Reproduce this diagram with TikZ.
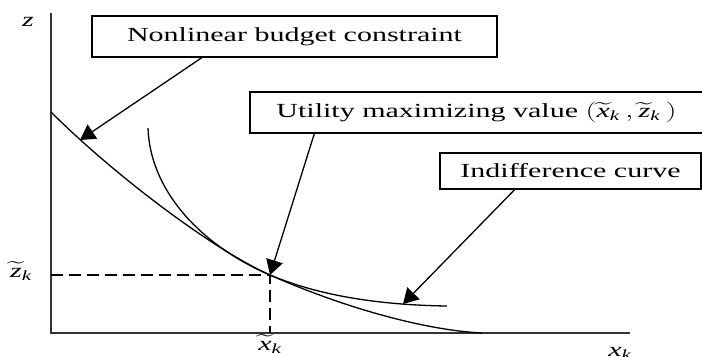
\documentclass[tikz,border=0pt]{standalone}
\usepackage{fontspec}
\usepackage{amsmath}
\usepackage{graphicx}
\setmainfont{Liberation Serif}
\usetikzlibrary{arrows.meta,calc}
\newcommand\lbl[1]{\scalebox{1.5}[1]{#1}}
\newcommand\ivar[1]{\text{\itshape #1}}
\begin{document}
\begin{tikzpicture}[x=1bp,y=-1bp,
  box/.style={draw, line width=1.3bp, inner sep=0pt, font=\fontsize{20bp}{24bp}\selectfont},
  arr/.style={line width=1.3bp, -{Triangle[length=15bp,width=17bp]}},
  crv/.style={line width=1.3bp},
  axisline/.style={line width=1.8bp, draw=black!80},
  dsh/.style={line width=1.3bp, dash pattern=on 12bp off 6bp},
  lab/.style={inner sep=0pt, font=\fontsize{20bp}{24bp}\selectfont}]
\useasboundingbox (0,0) rectangle (702,356);
\clip (0,0) rectangle (702,356);
% axes
\draw[axisline] (51,13) -- (51,333) -- (630,333);
% dashed guides
\coordinate (tp) at (270,275);
\coordinate (za) at (51,275);
\coordinate (xa) at (270,333);
\draw[dsh] (za) -- (tp) -- (xa);
% budget constraint
\draw[crv] (51,112) .. controls (111,172) and (210,248) .. (tp)
  .. controls (340,306) and (422,330) .. (482,333);
% indifference curve
\draw[crv] (148,128) .. controls (150,190) and (200,245) .. (tp)
  .. controls (320,296) and (380,305) .. (447,306);
% boxes
\node[box, minimum width=405bp, minimum height=41bp] (b1) at (294.5,36.5) {\lbl{Nonlinear budget constraint}};
\node[box, minimum width=453bp, minimum height=41bp] (b2) at (476.5,112.5) {\lbl{Utility maximizing value $(\widetilde{\ivar{x}}_{\ivar{k}}\,,\widetilde{\ivar{z}}_{\ivar{k}}\,)$}};
\node[box, minimum width=261bp, minimum height=36bp] (b3) at (570.5,171) {\lbl{Indifference curve}};
% arrow tips
\coordinate (t1) at (80,140);
\coordinate (t3) at (403,304);
\draw[arr] ($(b1.south west)!0.272!(b1.south east)$) -- (t1);
\draw[arr] ($(b2.south west)!0.143!(b2.south east)$) -- (tp);
\draw[arr] ($(b3.south west)!0.287!(b3.south east)$) -- (t3);
% labels
\node[lab] (lz) at (28,22) {\lbl{$\ivar{z}$}};
\node[lab] (lzk) at (21,271) {\lbl{$\widetilde{\ivar{z}}_{\ivar{k}}$}};
\node[lab] (lxk) at (270,344) {\lbl{$\widetilde{\ivar{x}}_{\ivar{k}}$}};
\node[lab] (lx) at (620,353) {\lbl{$\ivar{x}_{\ivar{k}}$}};
\end{tikzpicture}
\end{document}
